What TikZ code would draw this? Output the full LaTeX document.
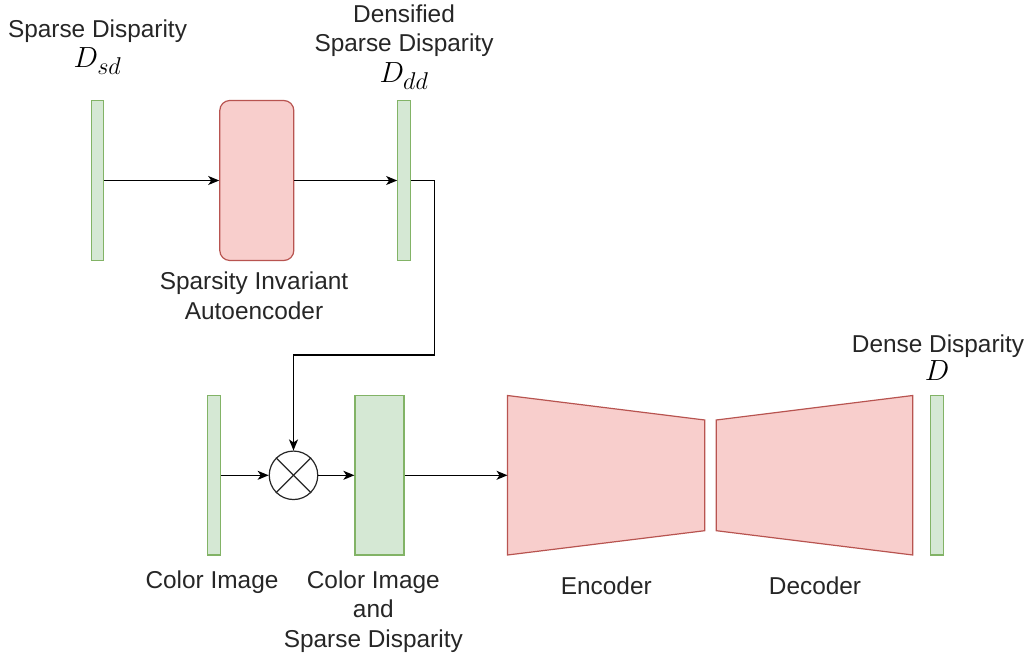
\documentclass[tikz,border=0pt]{standalone}
\usepackage{graphicx}
\usepackage{fontspec}
\setmainfont{Liberation Sans}
\usetikzlibrary{arrows.meta}
\definecolor{gfill}{HTML}{D5E8D4}
\definecolor{gline}{HTML}{82B366}
\definecolor{rfill}{HTML}{F8CECC}
\definecolor{rline}{HTML}{B85450}
\newcommand{\bigmath}[1]{\scalebox{1.17}{$#1$}}
\begin{document}
\begin{tikzpicture}[x=1pt,y=-1pt,
  bar/.style={draw=gline,fill=gfill,line width=1.2pt,inner sep=0pt,minimum width=12.5pt,minimum height=159.5pt},
  redbox/.style={draw=rline,fill=rfill,line width=1.2pt},
  lbl/.style={font=\fontsize{24.4}{29.5}\selectfont,inner sep=0pt,anchor=base,align=center,text=black!85},
  mlbl/.style={font=\fontsize{24.88}{30}\selectfont,inner sep=0pt,anchor=base},
  arr/.style={draw=black,line width=1.2pt,-{Stealth[length=11pt,width=9pt,inset=3pt]}},
  ln/.style={draw=black,line width=1.2pt}]
\useasboundingbox (0,0) rectangle (1030,660);

% top row
\node[bar] (sd) at (97.5,180.5) {};
\node[redbox,rounded corners=10pt,inner sep=0pt,minimum width=74pt,minimum height=160pt] (ae) at (256.8,180.5) {};
\node[bar] (dd) at (404,180.5) {};

\node[lbl] (tsd) at (97.5,37.5) {Sparse Disparity};
\node[mlbl] (msd) at (97.5,68) {\bigmath{D_{sd}}};
\node[lbl] (tdd) at (404,52) {Densified\\Sparse Disparity};
\node[mlbl] (mdd) at (404,83) {\bigmath{D_{dd}}};
\node[lbl] (tae) at (254,319) {Sparsity Invariant\\Autoencoder};

\draw[arr] (sd.east) -- (ae.west);
\draw[arr] (ae.east) -- (dd.west);

% bottom row
\node[bar] (ci) at (214,475.3) {};
\node[draw=black!85,line width=1.2pt,circle,minimum size=48.5pt,inner sep=0pt] (mul) at (293.5,475.3) {};
\draw[ln,black!85] (mul.north east) -- (mul.south west);
\draw[ln,black!85] (mul.north west) -- (mul.south east);
\node[bar,minimum width=49pt] (cs) at (379.5,475.3) {};

\draw[redbox] (507.5,395.5) -- (704.7,420) -- (704.7,530.7) -- (507.5,555) -- cycle;
\draw[redbox] (716.3,420) -- (912.7,395.5) -- (912.7,555) -- (716.3,530.7) -- cycle;
\coordinate (encin) at (507.5,475.3);
\node[bar] (dn) at (937,475.3) {};

\node[lbl] (tci) at (212,588) {Color Image};
\node[lbl] (tcs) at (373.3,647) {Color Image\\and\\Sparse Disparity};
\node[lbl] (tenc) at (606.3,594) {Encoder};
\node[lbl] (tdec) at (815,594) {Decoder};
\node[lbl] (tdn) at (938,352.5) {Dense Disparity};
\node[mlbl] (mdn) at (937,380.5) {\bigmath{D}};

\draw[arr] (ci.east) -- (mul.west);
\draw[arr] (mul.east) -- (cs.west);
\draw[arr] (cs.east) -- (encin);

\coordinate (b1) at (434.5,355);
\draw[arr] (dd.east) -| (b1) -| (mul.north);
\end{tikzpicture}
\end{document}
